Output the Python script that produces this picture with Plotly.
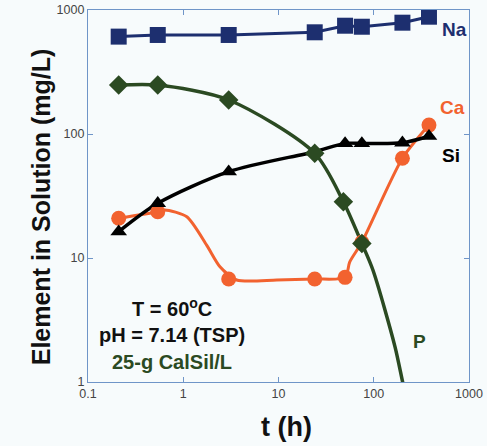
import plotly.graph_objects as go

# time points (h)
t = [0.21, 0.54, 3, 24, 50, 75, 200, 380]
na = [610, 629, 629, 661, 747, 733, 790, 883]
si = [16.3, 27.6, 49.7, 72, 84, 84, 85, 96]
ca = [20.9, 23.6, 6.77, 6.77, 6.98, 13.4, 63.7, 118]
t_p = [0.21, 0.54, 3, 24, 48, 75]
p = [248, 248, 188, 69.8, 28.4, 13.1]

# smooth trend lines
p_curve_t = [0.21, 0.54, 3, 24, 48, 75, 98, 167, 201, 215]
p_curve_y = [248, 248, 188, 69.8, 28.4, 13.1, 8.0, 1.93, 1.0, 0.8]
ca_curve_t = [0.21, 0.54, 0.64, 1.09, 1.76, 2.43, 3.64, 9.6, 24, 50, 56, 75, 200, 380]
ca_curve_y = [20.9, 23.6, 24.4, 21.5, 12.7, 8.5, 6.65, 6.65, 6.77, 6.98, 9.3, 13.4, 63.7, 118]

NA_C = "#1d2f6f"
P_C = "#2b4a22"
CA_C = "#f2622f"
SI_C = "#000000"
AX_C = "#6f95c8"
BG = "#f7fbfc"

fig = go.Figure()

# lines
fig.add_trace(go.Scatter(x=p_curve_t, y=p_curve_y, mode="lines",
                         line=dict(color=P_C, width=3.5, shape="spline", smoothing=0.8),
                         hoverinfo="skip", showlegend=False))
fig.add_trace(go.Scatter(x=ca_curve_t, y=ca_curve_y, mode="lines",
                         line=dict(color=CA_C, width=3, shape="spline", smoothing=0.7),
                         hoverinfo="skip", showlegend=False))
fig.add_trace(go.Scatter(x=t, y=si, mode="lines",
                         line=dict(color=SI_C, width=3.5, shape="spline", smoothing=0.8),
                         hoverinfo="skip", showlegend=False))
fig.add_trace(go.Scatter(x=t, y=na, mode="lines",
                         line=dict(color=NA_C, width=3),
                         hoverinfo="skip", showlegend=False))

# markers
fig.add_trace(go.Scatter(x=t, y=ca, mode="markers",
                         marker=dict(symbol="circle", size=15, color=CA_C),
                         showlegend=False))
fig.add_trace(go.Scatter(x=t, y=si, mode="markers",
                         marker=dict(symbol="triangle-up", size=14.5, color=SI_C),
                         showlegend=False))
fig.add_trace(go.Scatter(x=t_p, y=p, mode="markers",
                         marker=dict(symbol="diamond", size=15, color=P_C),
                         showlegend=False))
fig.add_trace(go.Scatter(x=t, y=na, mode="markers",
                         marker=dict(symbol="square", size=16, color=NA_C),
                         showlegend=False))

tickfont = dict(family="Liberation Sans, Arial", size=12.5, color="#444444")
fig.update_xaxes(type="log", range=[-1, 3], tickvals=[0.1, 1, 10, 100, 1000],
                 ticktext=["0.1", "1", "10", "100", "1000"], ticks="inside", ticklen=5,
                 tickcolor=AX_C, showline=True, linecolor=AX_C, linewidth=1.2,
                 mirror="ticks", showgrid=False, zeroline=False, tickfont=tickfont,
                 automargin=False)
fig.update_yaxes(type="log", range=[0, 3], tickvals=[1, 10, 100, 1000],
                 ticktext=["1", "10", "100", "1000"], ticks="inside", ticklen=5,
                 tickcolor=AX_C, showline=True, linecolor=AX_C, linewidth=1.2,
                 mirror="ticks", showgrid=False, zeroline=False, tickfont=tickfont,
                 automargin=False)

bold = "Liberation Sans, Arial"


def label(x, y, text, size, color, angle=0):
    return dict(xref="paper", yref="paper", x=x, y=y, text=text, textangle=angle,
                xanchor="center", yanchor="middle",
                font=dict(family=bold, size=size, color=color), showarrow=False)


annotations = [
    label(0.962, 0.947, "<b>Na</b>", 19, NA_C),
    label(0.958, 0.739, "<b>Ca</b>", 19, CA_C),
    label(0.953, 0.610, "<b>Si</b>", 19, SI_C),
    label(0.870, 0.110, "<b>P</b>", 19, P_C),
    label(0.220, 0.200, "<b>T = 60<sup>o</sup>C</b>", 20, "#111111"),
    label(0.220, 0.127, "<b>pH = 7.14 (TSP)</b>", 20, "#111111"),
    label(0.220, 0.054, "<b>25-g CalSil/L</b>", 20, P_C),
    label(0.522, -0.121, "<b>t (h)</b>", 27, "#111111"),
    label(-0.123, 0.47, "<b>Element in Solution (mg/L)</b>", 25, "#111111", -90),
]

fig.update_layout(width=487, height=446, margin=dict(l=88, r=18, t=10, b=64),
                  paper_bgcolor=BG, plot_bgcolor=BG,
                  annotations=annotations, showlegend=False)

fig.write_html("out.html", config={"displayModeBar": False},
               post_script="document.body.style.margin='0';"
                           "document.body.style.background='%s';" % BG)
